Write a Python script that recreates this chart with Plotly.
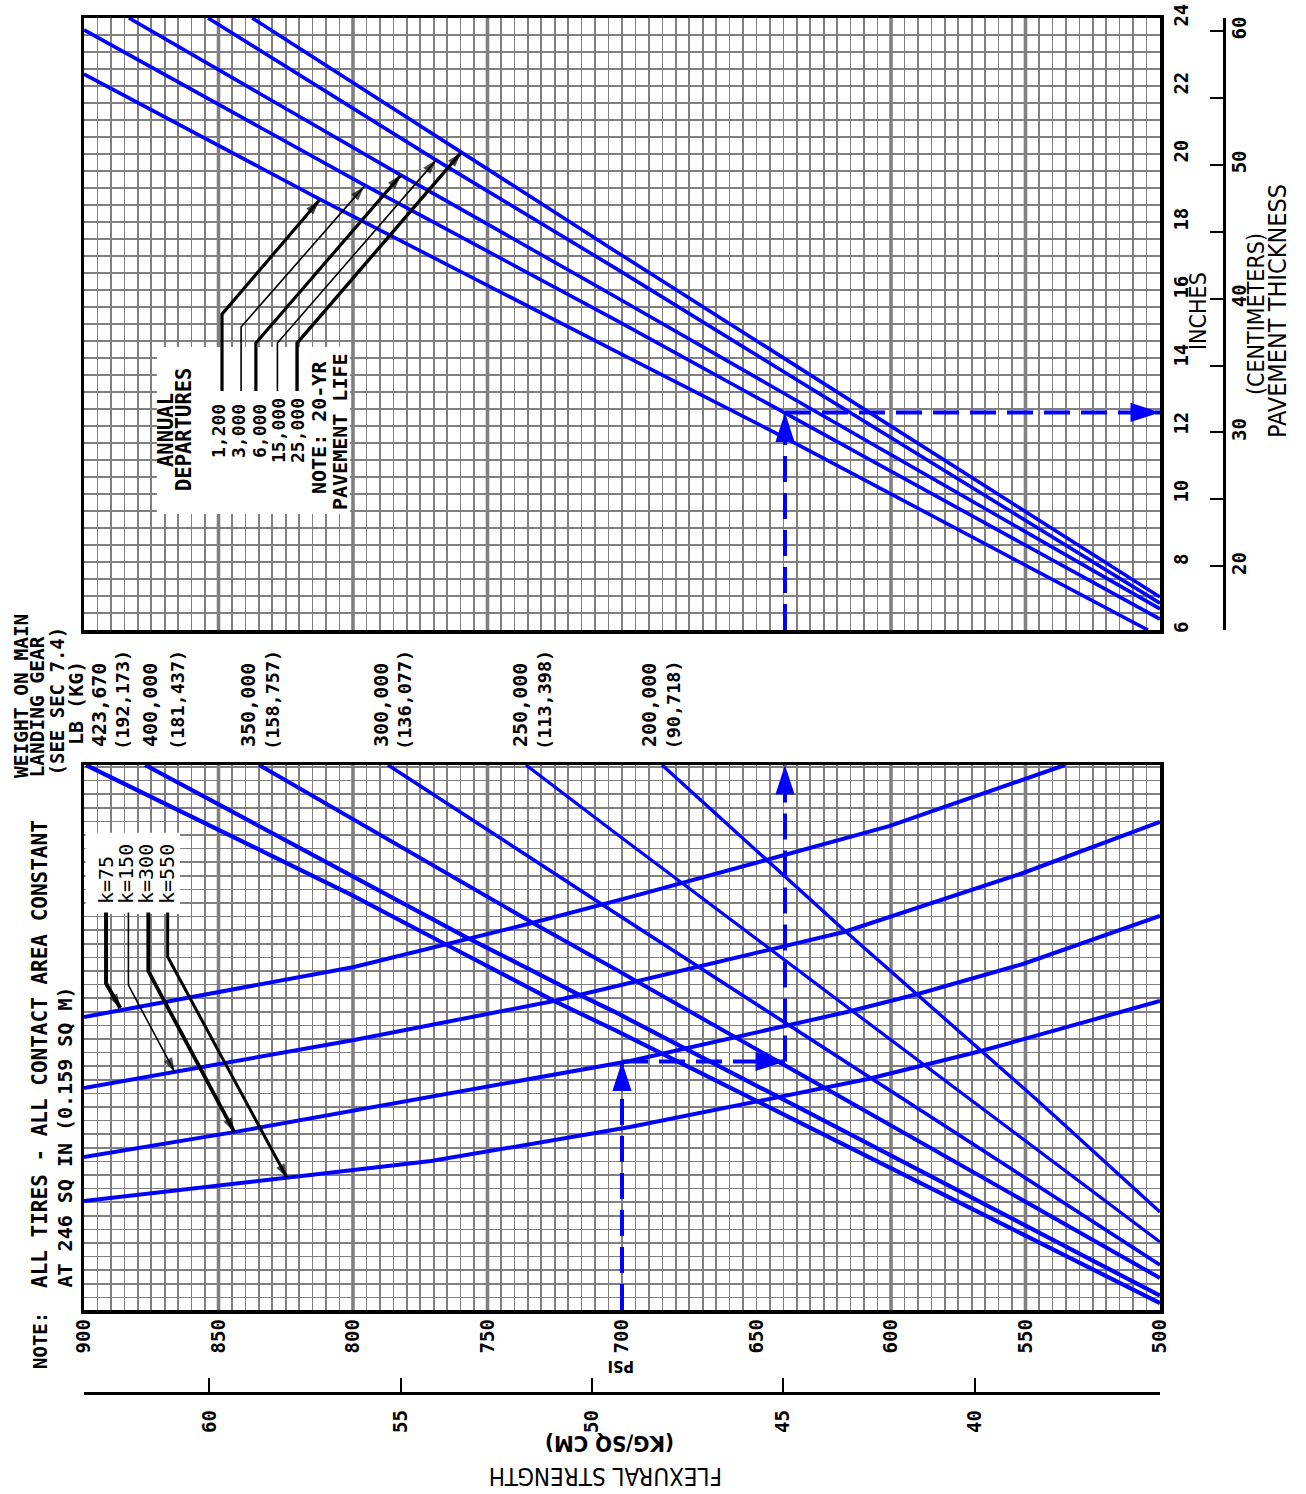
import plotly.graph_objects as go

W, H = 1306, 1494
BLUE = "#0000ff"
GRID = "#808080"
MONO = "DejaVu Sans Mono, monospace"
NARROW = "Liberation Sans Narrow, DejaVu Sans Condensed, Arial Narrow, sans-serif"

# ===================== values =====================
psi_ticks = [900, 850, 800, 750, 700, 650, 600, 550, 500]
psi_heavy = [850, 800, 750, 600, 550]          # heavier grid lines
kg_ticks = [60, 55, 50, 45, 40, 35]
inch_ticks = [6, 8, 10, 12, 14, 16, 18, 20, 22, 24]
cm_ticks = [20, 25, 30, 35, 40, 45, 50, 55, 60]
cm_text = ["20", "", "30", "", "40", "", "50", "", "60"]
PSI_PER_KGCM2 = 14.2233
CM_PER_IN = 2.54

weight_lb = ["423,670", "400,000", "350,000", "300,000", "250,000", "200,000"]
weight_kg = ["(192,173)", "(181,437)", "(158,757)", "(136,077)", "(113,398)", "(90,718)"]

# main-gear weight lines (x: flexural-strength scale in psi, y: lower-grid units from top edge)
w423_x = [899.3, 850.6, 800.4, 765.8, 725.3, 702.6, 500.0]
w423_y = [0.0, 4.71, 9.56, 13.16, 17.35, 19.49, 39.56]
w400_x = [877.3, 758.0, 716.4, 702.6, 500.0]
w400_y = [0.0, 12.65, 16.84, 18.16, 39.01]
w350_x = [834.9, 733.1, 702.6, 500.0]
w350_y = [0.0, 11.62, 15.00, 37.72]
w300_x = [787.0, 707.1, 500.0]
w300_y = [0.0, 10.29, 36.76]
w250_x = [735.7, 702.6, 500.0]
w250_y = [0.0, 4.98, 35.07]
w200_x = [685.1, 617.5, 545.7, 500.0]
w200_y = [0.0, 12.13, 24.63, 32.87]

# subgrade modulus (k) lines
k_labels = ["k=75", "k=150", "k=300", "k=550"]
k75_x = [900.0, 799.6, 733.5, 697.0, 645.0, 600.7, 535.3]
k75_y = [18.53, 14.85, 11.62, 9.71, 6.91, 4.49, 0.0]
k150_x = [900.0, 866.2, 799.6, 725.3, 697.0, 671.0, 617.5, 550.9, 500.0]
k150_y = [23.75, 22.57, 20.22, 17.35, 16.03, 14.85, 12.28, 7.94, 4.19]
k300_x = [900.0, 844.2, 697.0, 659.5, 616.4, 590.0, 550.9, 500.0]
k300_y = [28.82, 26.99, 21.76, 20.07, 18.16, 16.84, 14.63, 11.10]
k550_x = [900.0, 824.5, 771.0, 697.0, 650.2, 608.6, 566.5, 500.0]
k550_y = [32.06, 30.37, 29.12, 26.62, 24.78, 23.09, 21.03, 17.35]

# k legend leaders
k75_lead_x = [891.8, 891.8, 886.5]
k75_lead_y = [10.85, 16.06, 17.87]
k150_lead_x = [883.5, 883.5, 866.3]
k150_lead_y = [10.85, 16.18, 22.57]
k300_lead_x = [876.1, 876.1, 844.1]
k300_lead_y = [10.85, 15.15, 26.99]
k550_lead_x = [868.9, 868.9, 824.5]
k550_lead_y = [10.85, 14.10, 30.37]
k_box_x = [899.4, 864.3]
k_box_y = [4.98, 10.95]

# annual departure lines (upper chart, y: pavement thickness in inches)
dep_labels = ["1,200", "3,000", "6,000", "15,000", "25,000"]
d1200_x = [900.0, 812.6, 702.6, 640.1, 504.5]
d1200_y = [22.35, 18.68, 14.21, 11.68, 6.0]
d3000_x = [900.0, 795.9, 702.6, 500.0]
d3000_y = [23.65, 19.09, 15.13, 6.32]
d6000_x = [883.3, 782.2, 702.6, 500.0]
d6000_y = [24.0, 19.38, 15.81, 6.62]
d15000_x = [853.9, 769.1, 702.6, 500.0]
d15000_y = [24.0, 19.82, 16.65, 6.79]
d25000_x = [837.5, 759.5, 702.6, 500.0]
d25000_y = [24.0, 20.03, 17.15, 6.97]

# departure legend leaders
l1200_x = [848.7, 848.7, 812.6]
l1200_y = [13.03, 15.29, 18.63]
l3000_x = [841.6, 841.6, 795.9]
l3000_y = [13.03, 14.91, 19.04]
l6000_x = [836.1, 836.1, 782.2]
l6000_y = [13.03, 14.44, 19.38]
l15000_x = [828.1, 828.1, 769.1]
l15000_y = [13.03, 14.44, 19.82]
l25000_x = [820.8, 820.8, 759.9]
l25000_y = [13.03, 14.44, 20.03]
dep_box_x = [872.9, 801.1]
dep_box_y = [9.41, 14.32]

# worked example path
ex_psi = 700.0
ex_turn = 639.4
ex_level = 21.8
ex_thick = 12.4

LOW_TOP, LOW_BOTTOM = 0.0, 40.07       # lower grid units
TH_MIN, TH_MAX = 6.0, 24.0

# ===================== figure =====================
fig = go.Figure()


def line(x, y, xa, ya, color=BLUE, width=4.0, dash=None):
    fig.add_trace(go.Scatter(x=x, y=y, xaxis=xa, yaxis=ya, mode="lines",
                             line=dict(color=color, width=width, dash=dash),
                             hoverinfo="skip", showlegend=False))


def box(xr, yr, xa, ya):
    fig.add_trace(go.Scatter(x=[xr[0], xr[1], xr[1], xr[0], xr[0]],
                             y=[yr[0], yr[0], yr[1], yr[1], yr[0]],
                             xaxis=xa, yaxis=ya, mode="lines", fill="toself",
                             fillcolor="white", line=dict(width=0, color="white"),
                             hoverinfo="skip", showlegend=False))


def leader(x, y, xa, ya, width):
    n = len(x)
    fig.add_trace(go.Scatter(x=x, y=y, xaxis=xa, yaxis=ya, mode="lines+markers",
                             line=dict(color="black", width=width),
                             marker=dict(symbol="arrow", size=[0] * (n - 1) + [15],
                                         angleref="previous", color="black",
                                         line=dict(width=0)),
                             cliponaxis=False, hoverinfo="skip", showlegend=False))


def head(x, y, xa, ya, angle):
    fig.add_trace(go.Scatter(x=[x], y=[y], xaxis=xa, yaxis=ya, mode="markers",
                             marker=dict(symbol="arrow", size=31, angle=angle, color=BLUE,
                                         line=dict(width=0)),
                             cliponaxis=False, hoverinfo="skip", showlegend=False))


# heavier grid lines
for v in psi_heavy:
    line([v, v], [LOW_BOTTOM, LOW_TOP], "x", "y", color=GRID, width=3.6)
    line([v, v], [TH_MIN, TH_MAX], "x2", "y2", color=GRID, width=3.6)

# white label boxes
box(k_box_x, k_box_y, "x", "y")
box(dep_box_x, dep_box_y, "x2", "y2")

# lower chart: weight lines and k lines
for xs, ys, wd in [(w423_x, w423_y, 4.2), (w400_x, w400_y, 4.2), (w350_x, w350_y, 4.0),
                   (w300_x, w300_y, 3.6), (w250_x, w250_y, 3.2), (w200_x, w200_y, 3.4)]:
    line(xs, ys, "x", "y", width=wd)
for xs, ys in [(k75_x, k75_y), (k150_x, k150_y), (k300_x, k300_y), (k550_x, k550_y)]:
    line(xs, ys, "x", "y", width=4.0)

# upper chart: departure lines
for xs, ys in [(d1200_x, d1200_y), (d3000_x, d3000_y), (d6000_x, d6000_y),
               (d15000_x, d15000_y), (d25000_x, d25000_y)]:
    line(xs, ys, "x2", "y2", width=3.6)

# leaders
for xs, ys, wd in [(k75_lead_x, k75_lead_y, 4.0), (k150_lead_x, k150_lead_y, 1.6),
                   (k300_lead_x, k300_lead_y, 3.8), (k550_lead_x, k550_lead_y, 3.0)]:
    leader(xs, ys, "x", "y", wd)
for xs, ys, wd in [(l1200_x, l1200_y, 3.2), (l3000_x, l3000_y, 1.6), (l6000_x, l6000_y, 3.2),
                   (l15000_x, l15000_y, 1.6), (l25000_x, l25000_y, 3.4)]:
    leader(xs, ys, "x2", "y2", wd)

# worked example (dashed blue)
DASH = "26px,11px"
line([ex_psi, ex_psi], [LOW_BOTTOM, ex_level], "x", "y", width=4, dash=DASH)
line([ex_psi, ex_turn], [ex_level, ex_level], "x", "y", width=4, dash=DASH)
line([ex_turn, ex_turn], [ex_level, LOW_TOP], "x", "y", width=4, dash=DASH)
line([ex_turn, ex_turn], [TH_MIN, ex_thick], "x2", "y2", width=4, dash=DASH)
line([ex_turn, 500.0], [ex_thick, ex_thick], "x2", "y2", width=4, dash=DASH)
head(ex_psi, ex_level, "x", "y", 0)
head(ex_turn, ex_level, "x", "y", 90)
head(ex_turn, LOW_TOP, "x", "y", 0)
head(ex_turn, ex_thick, "x2", "y2", 0)
head(500.0, ex_thick, "x2", "y2", 90)

# dummy traces so the secondary scales are drawn
fig.add_trace(go.Scatter(x=[50], y=[20], xaxis="x3", yaxis="y", mode="markers",
                         marker=dict(opacity=0), hoverinfo="skip", showlegend=False))
fig.add_trace(go.Scatter(x=[700], y=[40], xaxis="x2", yaxis="y3", mode="markers",
                         marker=dict(opacity=0), hoverinfo="skip", showlegend=False))

# ===================== axes =====================
XDOM = [84 / W, 1160 / W]
LOW_DOM = [1 - 1310 / H, 1 - 765 / H]
UP_DOM = [1 - 630 / H, 1 - 18 / H]
frame = dict(showline=True, linecolor="black", linewidth=3.5, mirror=True, zeroline=False,
             automargin=False)
tickfont = dict(family=MONO, size=19, color="black", weight="bold")
minor_x = dict(dtick=5, tick0=500, showgrid=True, gridcolor=GRID, gridwidth=1.6, ticks="")

fig.update_layout(
    width=W, height=H, autosize=False,
    margin=dict(l=0, r=0, t=0, b=0, pad=0, autoexpand=False),
    paper_bgcolor="white", plot_bgcolor="white",
    xaxis=dict(domain=XDOM, anchor="y", range=[900, 500], tickmode="linear", tick0=500, dtick=50,
               showgrid=True, gridcolor=GRID, gridwidth=1.6, minor=minor_x,
               ticks="", showticklabels=True, tickangle=-90, tickfont=tickfont,
               ticklabelstandoff=-2, **frame),
    yaxis=dict(domain=LOW_DOM, anchor="x", range=[LOW_BOTTOM, LOW_TOP], tickmode="linear",
               tick0=1.147, dtick=1, showgrid=True, gridcolor=GRID, gridwidth=1.6,
               showticklabels=False, ticks="", **frame),
    xaxis2=dict(domain=XDOM, anchor="y2", range=[900, 500], tickmode="linear", tick0=500, dtick=50,
                showgrid=True, gridcolor=GRID, gridwidth=1.6, minor=minor_x,
                showticklabels=False, ticks="", **frame),
    yaxis2=dict(domain=UP_DOM, anchor="x2", range=[TH_MIN, TH_MAX], side="right",
                tickmode="array", tickvals=inch_ticks, showgrid=True, gridcolor=GRID, gridwidth=1.6,
                minor=dict(dtick=0.5, tick0=6, showgrid=True, gridcolor=GRID, gridwidth=1.6, ticks=""),
                ticks="", showticklabels=True, tickangle=-90, tickfont=tickfont,
                ticklabelstandoff=2, **frame),
    xaxis3=dict(overlaying="x", anchor="free", position=1 - 1393 / H, side="bottom",
                range=[900 / PSI_PER_KGCM2, 500 / PSI_PER_KGCM2],
                tickmode="array", tickvals=kg_ticks, ticks="inside", ticklen=14, tickwidth=2,
                tickcolor="black", showline=True, linecolor="black", linewidth=2.5,
                showgrid=False, zeroline=False, automargin=False, tickangle=-90,
                tickfont=tickfont, ticklabelstandoff=8),
    yaxis3=dict(overlaying="y2", anchor="free", position=1224 / W, side="right",
                range=[TH_MIN * CM_PER_IN, TH_MAX * CM_PER_IN],
                tickmode="array", tickvals=cm_ticks, ticktext=cm_text, ticks="inside",
                ticklen=13, tickwidth=2, tickcolor="black", showline=True, linecolor="black",
                linewidth=2.5, showgrid=False, zeroline=False, automargin=False, tickangle=-90,
                tickfont=tickfont, ticklabelstandoff=-2),
)


# ===================== texts =====================
def txt(s, px, py, size, angle=-90, family=MONO, weight="bold", xanchor="center", yanchor="middle"):
    fig.add_annotation(text=s, x=px / W, y=1 - py / H, xref="paper", yref="paper",
                       showarrow=False, textangle=angle, xanchor=xanchor, yanchor=yanchor,
                       font=dict(family=family, size=size, color="black", weight=weight))


# lower-left note
txt("NOTE:", 40, 1341, 19)
txt("ALL TIRES - ALL CONTACT AREA CONSTANT", 40, 1290, 21, yanchor="bottom")
txt("AT 246 SQ IN (0.159 SQ M)", 64, 1290, 20, yanchor="bottom")

# weight header
txt("WEIGHT ON MAIN", 21, 780, 19.5, yanchor="bottom")
txt("LANDING GEAR", 37, 780, 19.5, yanchor="bottom")
txt("(SEE SEC 7.4)", 56, 778, 19, yanchor="bottom")
txt("LB (KG)", 76, 747, 20, yanchor="bottom")
lb_px = [99, 150, 248, 381, 520, 649]
kg_px = [122, 177, 272, 404, 544, 673]
for s, px in zip(weight_lb, lb_px):
    txt(s, px, 749, 20, yanchor="bottom")
for s, px in zip(weight_kg, kg_px):
    txt(s, px, 752, 18.5, yanchor="bottom")

# k legend
for s, px in zip(k_labels, [106, 126, 146, 167]):
    txt(s, px, 906, 20, weight="normal", yanchor="bottom")

# departures legend
txt("ANNUAL", 166, 430, 20.5)
txt("DEPARTURES", 184, 430, 20.5)
for s, px in zip(dep_labels, [218, 238, 259, 278, 297]):
    txt(s, px, 431, 18)
txt("NOTE: 20-YR", 319, 428, 20)
txt("PAVEMENT LIFE", 340, 432, 20)

# thickness axis titles
txt("INCHES", 1198, 311, 23, family=NARROW, weight="normal")
txt("(CENTIMETERS)", 1256, 314, 23, family=NARROW, weight="normal")
txt("PAVEMENT THICKNESS", 1277, 311, 25, family=NARROW, weight="normal")

# strength axis titles (drawn upside down in the original)
txt("PSI", 621, 1367, 16, angle=180, family=NARROW)
txt("(KG/SQ CM)", 610, 1444, 22, angle=180, family=NARROW)
txt("FLEXURAL STRENGTH", 606, 1476, 24, angle=180, family=NARROW, weight="normal")

# page reset is run right after the plot call (not deferred) so the page is exactly W x H
RESET = ("document.documentElement.style.margin='0';document.body.style.margin='0';"
         "document.body.style.padding='0';document.documentElement.style.overflow='hidden';"
         "document.body.style.overflow='hidden';")
fig.write_html(
    "out.html",
    config={"displayModeBar": False, "responsive": False, "staticPlot": True},
    post_script="});" + RESET + "(function(){" + RESET,
)
